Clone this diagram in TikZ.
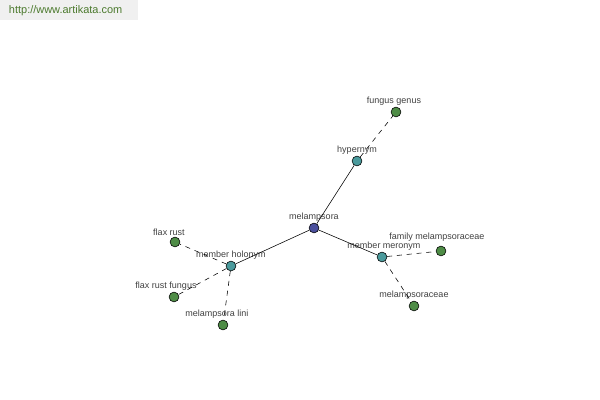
\documentclass[tikz,border=0pt]{standalone}
\usepackage{fontspec}
\setmainfont{Liberation Sans}
\usetikzlibrary{positioning}

\definecolor{rootblue}{HTML}{4A4F9C}
\definecolor{relteal}{HTML}{4A9A9C}
\definecolor{leafgreen}{HTML}{4E8C46}
\definecolor{urlgreen}{HTML}{4C7A2E}
\definecolor{labelgray}{HTML}{404040}

\begin{document}
\begin{tikzpicture}[
  x=0.025cm, y=-0.025cm,
  font=\fontsize{6.4}{7}\selectfont,
  dot/.style={circle, draw=black, line width=0.4pt, inner sep=0pt, minimum size=7pt},
  root/.style={dot, fill=rootblue},
  rel/.style={dot, fill=relteal},
  leaf/.style={dot, fill=leafgreen},
  tag/.style 2 args={label={[text=labelgray, inner sep=1pt, xshift=#1*0.025cm]above:#2}},
  solidedge/.style={draw=black, line width=0.4pt},
  dashedge/.style={draw=black, line width=0.4pt, dash pattern=on 3.5pt off 3.5pt}
]

\useasboundingbox (0,0) rectangle (600,400);
\fill[gray!12] (0,0) rectangle (138,20);
\node[text=urlgreen, font=\fontsize{7.8}{9}\selectfont, anchor=west] (url) at (4,11) {http://www.artikata.com};

% centre and relations
\node[root, tag={0}{melampsora}] (mel) at (314,228) {};
\node[rel, tag={0}{hypernym}] (hyp) at (357,161) {};
\node[rel, tag={0}{member holonym}] (hol) at (231,266) {};
\node[rel, tag={2}{member meronym}] (mer) at (382,257) {};

% leaves
\node[leaf, tag={-2}{fungus genus}] (genus) at (396,112) {};
\node[leaf, tag={-6}{flax rust}] (flax) at (175,242) {};
\node[leaf, tag={-8}{flax rust fungus}] (flaxfungus) at (174,297) {};
\node[leaf, tag={-6}{melampsora lini}] (lini) at (223,325) {};
\node[leaf, label={[text=labelgray, inner sep=1pt, xshift=-0.1cm, yshift=0.08cm]above:family melampsoraceae}] (family) at (441,251) {};
\node[leaf, tag={0}{melampsoraceae}] (melaceae) at (414,306) {};

\draw[solidedge] (mel) -- (hyp);
\draw[solidedge] (mel) -- (hol);
\draw[solidedge] (mel) -- (mer);

\draw[dashedge] (hyp) -- (genus);
\draw[dashedge] (hol) -- (flax);
\draw[dashedge] (hol) -- (flaxfungus);
\draw[dashedge] (hol) -- (lini);
\draw[dashedge] (mer) -- (family);
\draw[dashedge] (mer) -- (melaceae);

\end{tikzpicture}
\end{document}
